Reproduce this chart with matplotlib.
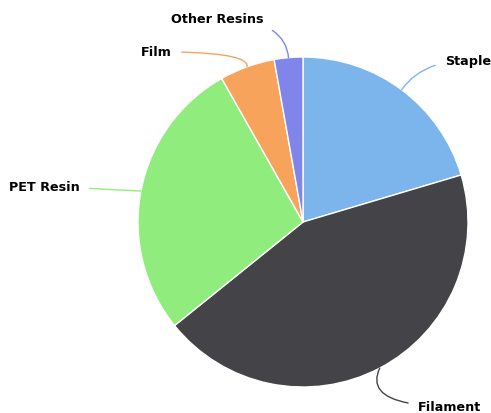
import numpy as np
import matplotlib.pyplot as plt

# share of each product segment (%)
segments = ['Staple', 'Filament', 'PET Resin', 'Film', 'Other Resins']
shares = [20.4, 43.8, 27.6, 5.4, 2.8]
colors = ['#7cb5ec', '#434348', '#90ed7d', '#f7a35c', '#8085e9']

# label offsets from the slice edge (pixels) and connector bend
label_style = {
    'Staple':       dict(off=(43, 29),  ha='left',  conn='angle3,angleA=0,angleB=55'),
    'Filament':     dict(off=(38, -38), ha='left',  conn='angle3,angleA=0,angleB=65'),
    'PET Resin':    dict(off=(-61, 5),  ha='right', conn='arc3,rad=0'),
    'Film':         dict(off=(-75, 15), ha='right', conn='angle3,angleA=0,angleB=80'),
    'Other Resins': dict(off=(-25, 39), ha='right', conn='angle3,angleA=0,angleB=95'),
}

W, H = 491, 414
fig = plt.figure(figsize=(W / 100, H / 100), dpi=100)
ax = fig.add_axes([0, 0, 1, 1])

cx, cy, r = 303, H - 223, 165
wedges, _ = ax.pie(shares, colors=colors, startangle=90, counterclock=False,
                   center=(cx, cy), radius=r, frame=True,
                   wedgeprops=dict(edgecolor='white', linewidth=1))
ax.set_xlim(0, W)
ax.set_ylim(0, H)
ax.set_aspect('equal')
ax.axis('off')

for w, name, col in zip(wedges, segments, colors):
    mid = np.deg2rad((w.theta1 + w.theta2) / 2)
    anchor = (cx + r * np.cos(mid), cy + r * np.sin(mid))
    st = label_style[name]
    ax.annotate(name, xy=anchor, xytext=st['off'], textcoords='offset pixels',
                ha=st['ha'], va='center', fontsize=9.2, fontweight='bold',
                color='#000000',
                arrowprops=dict(arrowstyle='-', color=col, lw=1,
                                connectionstyle=st['conn'],
                                shrinkA=5, shrinkB=0))

fig.savefig('out.png', dpi=100)
